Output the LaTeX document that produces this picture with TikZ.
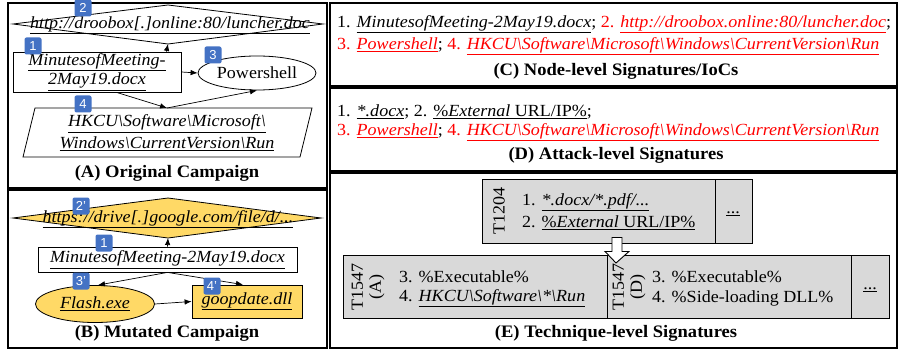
\documentclass[tikz,border=0pt]{standalone}
\usepackage{fontspec}
\setmainfont{Liberation Serif}[FakeStretch=1.06]
\newfontfamily\badgefont{Liberation Sans}
\usetikzlibrary{arrows.meta,shapes.geometric,calc}
\definecolor{badgeblue}{RGB}{68,114,196}
\definecolor{goldfill}{RGB}{255,217,102}
\definecolor{grayfill}{RGB}{217,217,217}
\newcommand{\uit}[1]{\underline{\textit{#1}}}
\newcommand{\bsl}{\textbackslash}
\begin{document}
\begin{tikzpicture}[x=1pt,y=-1pt,
  font=\fontsize{17}{21}\selectfont,
  panel/.style={draw, line width=1.2pt},
  conn/.style={-{Latex[length=7pt,width=5.5pt]}, line width=0.7pt},
  shapeline/.style={draw, line width=0.8pt},
  badge/.style={fill=badgeblue, rounded corners=2pt, minimum width=17pt, minimum height=17pt,
    inner sep=0pt, text=white, font=\badgefont\fontsize{13}{13}\selectfont},
  caption/.style={font=\fontsize{17.5}{21}\selectfont\bfseries, inner sep=0pt},
  txt/.style={anchor=west, inner sep=0pt},
  gbox/.style={draw, line width=0.9pt, fill=grayfill, inner sep=0pt}]
\useasboundingbox (0,0) rectangle (899,350);

% panels
\draw[panel] (8,3) rectangle (327,188);
\draw[panel] (8,190) rectangle (327,348);
\draw[panel] (330,3) rectangle (897,86);
\draw[panel] (330,88) rectangle (897,171);
\draw[panel] (330,173) rectangle (897,348);

% ---------- (A) ----------
\coordinate (dAl) at (13,24);
\coordinate (dAt) at (168,5);
\coordinate (dAr) at (323,24);
\coordinate (dAb) at (168,44);
\draw[shapeline] (dAl) -- (dAt) -- (dAr) -- (dAb) -- cycle;
\node[inner sep=0pt] (urlA) at (170,25) {\uit{http://droobox[.]online:80/luncher.doc}};

\node[shapeline, minimum width=168pt, minimum height=40pt, inner sep=0pt, align=center] (docA) at (97,72)
  {\uit{MinutesofMeeting-}\\[-2pt]\uit{2May19.docx}};
\node[shapeline, ellipse, minimum width=118pt, minimum height=34pt, inner sep=0pt] (pwA) at (257,73) {Powershell};

\coordinate (pTL) at (35,108);
\coordinate (pTR) at (312,108);
\coordinate (pBR) at (300,157);
\coordinate (pBL) at (23,157);
\draw[shapeline] (pTL) -- (pTR) -- (pBR) -- (pBL) -- cycle;
\coordinate (pTop) at (167,108);
\node[inner sep=0pt, align=center] (hkA) at (167,133)
  {\uit{HKCU\bsl Software\bsl Microsoft\bsl}\\[1pt]\uit{Windows\bsl CurrentVersion\bsl Run}};

\draw[conn] (docA.east) -- (pwA.west);
\draw[conn] ($(docA.north east)+(-15,0)$) -- (dAb);
\draw[conn] ($(docA.south west)+(104,0)$) -- (pTop);
\draw[conn] (pTop) -- (pwA.south);

\node[badge] (bA2) at (83,8) {2};
\node[badge] (bA1) at (33,46) {1};
\node[badge] (bA3) at (213,55) {3};
\node[badge] (bA4) at (83,104) {4};

\node[caption] (capA) at (167,173) {(A) Original Campaign};

% ---------- (B) ----------
\coordinate (dBl) at (13,218);
\coordinate (dBt) at (168,198);
\coordinate (dBr) at (321,218);
\coordinate (dBb) at (168,238);
\draw[shapeline, fill=goldfill] (dBl) -- (dBt) -- (dBr) -- (dBb) -- cycle;
\node[inner sep=0pt] (urlB) at (168,219) {\uit{https://drive[.]google.com/file/d/...}};

\node[shapeline, minimum width=259pt, minimum height=25pt, inner sep=0pt] (docB) at (167.5,259.5)
  {\uit{MinutesofMeeting-2May19.docx}};
\node[shapeline, ellipse, fill=goldfill, minimum width=119pt, minimum height=37pt, inner sep=0pt] (flB) at (95,304)
  {\uit{Flash.exe}};
\node[shapeline, fill=goldfill, minimum width=110pt, minimum height=33pt, inner sep=0pt] (gpB) at (247,301.5)
  {\uit{goopdate.dll}};

\draw[conn] (docB.north) -- (dBb);
\draw[conn] (docB.south) -- ($(flB.north)+(3,0)$);
\draw[conn] (docB.south) -- ($(gpB.north)+(-4,0)$);
\draw[conn] (flB.east) -- (gpB.west);

\node[badge] (bB2) at (81,206) {2’};
\node[badge] (bB1) at (104,243) {1};
\node[badge] (bB3) at (81,281) {3’};
\node[badge] (bB4) at (212,286) {4’};

\node[caption] (capB) at (167,333) {(B) Mutated Campaign};

% ---------- (C) ----------
\node[txt] (c1) at (337,24) {1. \uit{MinutesofMeeting-2May19.docx}; \textcolor{red}{2. \uit{http://droobox.online:80/luncher.doc}};};
\node[txt] (c2) at (337,46) {\textcolor{red}{3. \uit{Powershell}}; \textcolor{red}{4. \uit{HKCU\bsl Software\bsl Microsoft\bsl Windows\bsl CurrentVersion\bsl Run}}};
\node[caption] (capC) at (616,71) {(C) Node-level Signatures/IoCs};

% ---------- (D) ----------
\node[txt] (d1) at (337,112) {1. \uit{*.docx}; 2. \underline{\%\textit{External} URL/IP\%};};
\node[txt] (d2) at (337,132) {\textcolor{red}{3. \uit{Powershell}}; \textcolor{red}{4. \uit{HKCU\bsl Software\bsl Microsoft\bsl Windows\bsl CurrentVersion\bsl Run}}};
\node[caption] (capD) at (616,155) {(D) Attack-level Signatures};

% ---------- (E) ----------
\node[gbox, minimum width=270pt, minimum height=64pt] (tbox) at (617,211) {};
\draw[line width=0.9pt] (715,179) -- (715,243);
\node[rotate=90, inner sep=0pt] (t1204) at (499,211) {T1204};
\node[txt] (e1) at (522,202) {1. \uit{*.docx/*.pdf/...}};
\node[txt] (e2) at (522,223) {2. \underline{\%\textit{External} URL/IP\%}};
\node[inner sep=0pt] (edots1) at (733,214) {\underline{...}};

\node[gbox, minimum width=546pt, minimum height=63pt] (bbox) at (616,286.5) {};
\draw[line width=0.9pt] (607,255) -- (607,318);
\draw[line width=0.9pt] (851,255) -- (851,318);
\node[rotate=90, inner sep=0pt, align=center] (t1547a) at (368,287) {T1547\\[-3pt](A)};
\node[txt] (e3) at (399,277) {3. \%Executable\%};
\node[txt] (e4) at (399,298) {4. \uit{HKCU\bsl Software\bsl *\bsl Run}};
\node[rotate=90, inner sep=0pt, align=center] (t1547d) at (629,287) {T1547\\[-3pt](D)};
\node[txt] (e5) at (652,277) {3. \%Executable\%};
\node[txt] (e6) at (652,298) {4. \%Side-loading DLL\%};
\node[inner sep=0pt] (edots2) at (870,290) {\underline{...}};

% hollow arrow from top box to bottom box
\draw[line width=0.9pt, fill=white] ($(tbox.south)+(-5,-6)$) -- ($(tbox.south)+(5,-6)$) -- ($(tbox.south)+(5,8)$)
  -- ($(tbox.south)+(12,8)$) -- (bbox.north |- 0,263) -- ($(tbox.south)+(-12,8)$) -- ($(tbox.south)+(-5,8)$) -- cycle;

\node[caption] (capE) at (616,333) {(E) Technique-level Signatures};
\end{tikzpicture}
\end{document}
